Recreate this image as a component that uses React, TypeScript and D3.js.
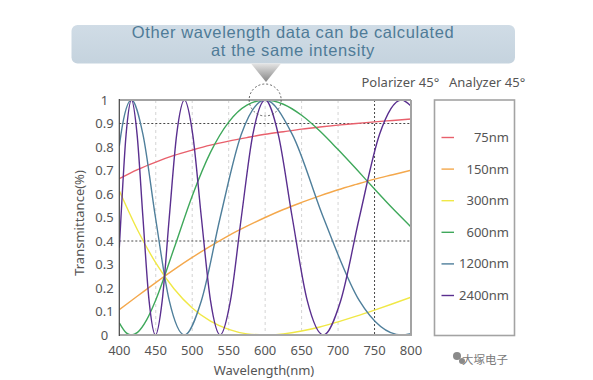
import React from "react";
import * as d3 from "d3";

// ---- data ----
const wavelengthTicks = [400, 450, 500, 550, 600, 650, 700, 750, 800];
const transmittanceTicks = [0, 0.1, 0.2, 0.3, 0.4, 0.5, 0.6, 0.7, 0.8, 0.9, 1];
const transmittanceTickLabels = ["0", "0.1", "0.2", "0.3", "0.4", "0.5", "0.6", "0.7", "0.8", "0.9", "1"];
const seriesNames = ["75nm", "150nm", "300nm", "600nm", "1200nm", "2400nm"];
const seriesColors = ["#e8606c", "#f4a84c", "#f0e846", "#3fa85b", "#4f7f9b", "#5a2f8f"];

const slowWavelengths = [400, 425, 450, 475, 500, 525, 550, 575, 600, 625, 650, 675, 700, 725, 750, 775, 800];
const t75 = [0.665, 0.704, 0.736, 0.764, 0.787, 0.808, 0.825, 0.840, 0.854, 0.865, 0.876, 0.885, 0.893, 0.900, 0.907, 0.913, 0.919];
const t150 = [0.108, 0.166, 0.223, 0.278, 0.330, 0.378, 0.423, 0.463, 0.500, 0.534, 0.564, 0.592, 0.618, 0.641, 0.663, 0.682, 0.701];
const t300 = [0.614, 0.447, 0.307, 0.197, 0.115, 0.059, 0.024, 0.005, 0.000, 0.005, 0.017, 0.034, 0.056, 0.080, 0.106, 0.133, 0.161];

const wl600 = [400, 410, 416.7, 425, 437.5, 450, 475, 500, 525, 550, 575, 600, 625, 650, 675, 700, 725, 750, 775, 800];
const t600 = [0.052, 0.008, 0.0, 0.011, 0.064, 0.149, 0.368, 0.592, 0.777, 0.906, 0.978, 1.0, 0.982, 0.935, 0.868, 0.789, 0.706, 0.621, 0.538, 0.460];

const wl1200 = [400, 402.28, 416.7, 432.41, 449.61, 468.52, 489.39, 512.54, 538.36, 567.31, 600, 637.17, 679.82, 729.19, 786.97, 800];
const t1200 = [0.804, 0.854, 1.0, 0.854, 0.5, 0.146, 0.0, 0.146, 0.5, 0.854, 1.0, 0.854, 0.5, 0.146, 0.0, 0.006];

const wl2400 = [400, 402.28, 409.34, 416.7, 424.38, 432.41, 440.82, 449.61, 458.84, 468.52, 478.7, 489.39, 500.66, 512.54, 525.09, 538.36, 552.4, 567.31, 583.15, 600, 617.97, 637.17, 657.75, 679.82, 703.57, 729.19, 756.9, 786.97, 800];
const t2400 = [0.371, 0.5, 0.854, 1.0, 0.854, 0.5, 0.146, 0.0, 0.146, 0.5, 0.854, 1.0, 0.854, 0.5, 0.146, 0.0, 0.146, 0.5, 0.854, 1.0, 0.854, 0.5, 0.146, 0.0, 0.146, 0.5, 0.854, 1.0, 0.974];

const seriesX = [slowWavelengths, slowWavelengths, slowWavelengths, wl600, wl1200, wl2400];
const seriesY = [t75, t150, t300, t600, t1200, t2400];

const lightGridWavelengths = [450, 500, 550, 600, 650, 700];
const darkGridWavelengths = [750];
const darkGridTransmittance = [0.9, 0.4];

const titleLines = ["Other wavelength data can be calculated", "at the same intensity"];

const FONT = "'Noto Sans', 'Open Sans', sans-serif";
const TITLE_FONT = "'Liberation Sans', Arial, sans-serif";

export default function App() {
  const left = 119.3, right = 411, top = 100, bottom = 335;
  const x = d3.scaleLinear().domain([400, 800]).range([left, right]);
  const y = d3.scaleLinear().domain([0, 1]).range([bottom, top]);
  const line = d3
    .line<[number, number]>()
    .x((d) => x(d[0]))
    .y((d) => y(d[1]))
    .curve(d3.curveMonotoneX);

  const legendY0 = 137.5, legendStep = 31.6;

  return (
    <svg
      width={593}
      height={380}
      style={{ position: "absolute", left: 0, top: 0, background: "#fff" }}
      fontFamily={FONT}
    >
      <defs>
        <clipPath id="plotClip">
          <rect x={left} y={top - 2} width={right - left} height={bottom - top + 4} />
        </clipPath>
        <linearGradient id="triGrad" x1="0" y1="0" x2="0" y2="1">
          <stop offset="0" stopColor="#e4e4e4" />
          <stop offset="1" stopColor="#858585" />
        </linearGradient>
        <linearGradient id="boxGrad" x1="0" y1="0" x2="0" y2="1">
          <stop offset="0" stopColor="#d0dce6" />
          <stop offset="1" stopColor="#c5d3de" />
        </linearGradient>
      </defs>

      {/* title callout */}
      <rect x={71.5} y={25} width={443.5} height={38.5} rx={6} fill="url(#boxGrad)" />
      <text x={293} y={37.5} textAnchor="middle" fontSize={16.5} letterSpacing={0.6} fill="#4f7b97" fontFamily={TITLE_FONT}>
        {titleLines[0]}
      </text>
      <text x={293} y={56.2} textAnchor="middle" fontSize={16.5} letterSpacing={0.6} fill="#4f7b97" fontFamily={TITLE_FONT}>
        {titleLines[1]}
      </text>
      <path d="M251,63.5 L281,63.5 L266,82 Z" fill="url(#triGrad)" />

      {/* header labels */}
      <text x={361.5} y={87} fontSize={13} fill="#555">Polarizer 45°</text>
      <text x={449} y={87} fontSize={13} fill="#555">Analyzer 45°</text>

      {/* grid */}
      {lightGridWavelengths.map((w) => (
        <line key={"lg" + w} x1={x(w)} x2={x(w)} y1={top} y2={bottom} stroke="#c8c8c8" strokeWidth={0.8} strokeDasharray="3,3" />
      ))}
      {darkGridWavelengths.map((w) => (
        <line key={"dg" + w} x1={x(w)} x2={x(w)} y1={top} y2={bottom} stroke="#333" strokeWidth={0.9} strokeDasharray="2,2" />
      ))}
      {darkGridTransmittance.map((t) => (
        <line key={"dt" + t} x1={left} x2={right} y1={y(t)} y2={y(t)} stroke="#333" strokeWidth={0.9} strokeDasharray="2,2" />
      ))}

      {/* series */}
      <g clipPath="url(#plotClip)">
        {seriesY.map((vals, i) => (
          <path
            key={seriesNames[i]}
            d={line(vals.map((v, j) => [seriesX[i][j], v] as [number, number])) || ""}
            fill="none"
            stroke={seriesColors[i]}
            strokeWidth={1.4}
          />
        ))}
      </g>

      {/* frame */}
      <line x1={left} x2={right} y1={top} y2={top} stroke="#a3a3a3" strokeWidth={2} />
      <line x1={left} x2={right + 1} y1={bottom} y2={bottom} stroke="#a8a8a8" strokeWidth={2.2} />
      <line x1={right} x2={right} y1={top} y2={bottom} stroke="#a3a3a3" strokeWidth={2} />
      <line x1={left} x2={left} y1={top - 1} y2={bottom + 1} stroke="#444" strokeWidth={1.2} />

      {/* dashed highlight circle */}
      <circle cx={x(600)} cy={y(1)} r={16} fill="none" stroke="#555" strokeWidth={0.9} strokeDasharray="2,2" />

      {/* x ticks */}
      {wavelengthTicks.map((w) => (
        <text key={"xt" + w} x={x(w)} y={355} textAnchor="middle" fontSize={13} fill="#555">
          {w}
        </text>
      ))}
      <text x={264} y={375} textAnchor="middle" fontSize={13} fill="#555">
        Wavelength(nm)
      </text>

      {/* y ticks */}
      {transmittanceTicks.map((t, i) => (
        <text key={"yt" + t} x={104.5} y={y(t) + 4.5} textAnchor="middle" fontSize={13} fill="#555">
          {transmittanceTickLabels[i]}
        </text>
      ))}
      <text transform={`translate(84,${223}) rotate(-90)`} textAnchor="middle" fontSize={13} fill="#555">
        Transmittance(%)
      </text>

      {/* legend */}
      <rect x={434.5} y={100} width={80} height={235.5} fill="#fff" stroke="#a3a3a3" strokeWidth={1.6} />
      {seriesNames.map((n, i) => {
        const ly = legendY0 + i * legendStep;
        return (
          <g key={"lg-" + n}>
            <line x1={441.5} x2={454} y1={ly} y2={ly} stroke={seriesColors[i]} strokeWidth={1.4} />
            <text x={509} y={ly + 4.5} textAnchor="end" fontSize={13} fill="#555">
              {n}
            </text>
          </g>
        );
      })}

      {/* watermark */}
      <g fill="#8a8a8a">
        <circle cx={457} cy={356} r={4} />
        <circle cx={462} cy={361} r={3} />
      </g>
      <text x={508} y={364} textAnchor="end" fontSize={11.5} fill="#7a7a7a" fontFamily="'Noto Sans CJK SC', sans-serif">
        大塚电子
      </text>
    </svg>
  );
}
